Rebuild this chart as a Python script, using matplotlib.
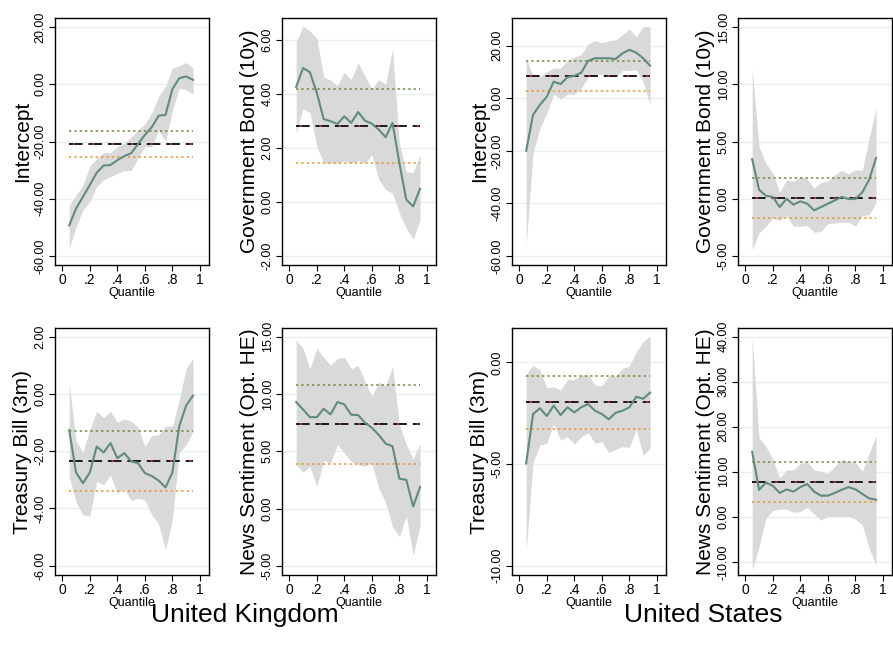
import matplotlib
matplotlib.use('Agg')
import matplotlib.pyplot as plt
import numpy as np
from matplotlib.ticker import FuncFormatter

plt.rcParams['axes.unicode_minus'] = False
plt.rcParams['font.family'] = ['Liberation Sans', 'DejaVu Sans']

quantiles = np.arange(1, 20) * 0.05

# ---- United Kingdom ----
uk_int = [-49.3, -43.4, -39.3, -35.2, -30.9, -28.4, -28.2, -26.5, -25.1, -24.1,
          -20.9, -17.7, -15.0, -11.0, -10.7, -1.7, 2.1, 2.7, 1.5]
uk_int_hi = [-42.2, -38.7, -35.2, -28.6, -25.9, -23.9, -23.9, -21.8, -20.6, -18.5,
             -16.0, -13.9, -10.1, -4.3, -0.8, 5.6, 6.4, 7.6, 5.6]
uk_int_lo = [-57.3, -49.8, -43.9, -41.0, -35.8, -33.4, -32.3, -31.1, -30.2, -30.2,
             -25.9, -21.8, -21.8, -16.0, -20.0, -9.0, -1.4, -2.0, -3.4]
uk_int_ols = [-16.2, -20.9, -25.3]

uk_gb = [4.26, 4.96, 4.80, 4.04, 3.07, 2.99, 2.89, 3.17, 2.93, 3.33,
         3.01, 2.90, 2.68, 2.40, 2.93, 1.44, 0.09, -0.16, 0.49]
uk_gb_hi = [5.91, 6.51, 6.32, 6.07, 4.63, 4.51, 4.31, 4.80, 4.53, 5.15,
            4.65, 4.19, 4.53, 4.35, 5.67, 2.19, 1.10, 1.10, 1.75]
uk_gb_lo = [2.56, 3.46, 3.30, 2.06, 1.44, 1.44, 1.44, 1.53, 1.44, 1.53,
            1.44, 1.75, 0.83, 0.46, 0.33, -0.41, -0.96, -1.37, -0.65]
uk_gb_ols = [4.20, 2.81, 1.43]

uk_tb = [-1.27, -2.75, -3.12, -2.75, -1.84, -2.05, -1.72, -2.25, -2.07, -2.36,
         -2.42, -2.77, -2.87, -3.03, -3.27, -2.75, -1.13, -0.41, -0.06]
uk_tb_hi = [0.39, -1.66, -2.05, -1.25, -0.61, -0.84, -0.61, -1.00, -0.88, -0.96,
            -1.16, -1.84, -1.46, -1.43, -1.13, -1.13, -0.20, 0.88, 1.23]
uk_tb_lo = [-2.89, -3.77, -4.23, -4.27, -3.06, -3.18, -2.83, -3.47, -3.30, -3.73,
            -3.65, -3.71, -4.23, -4.55, -5.46, -4.39, -2.05, -1.78, -1.31]
uk_tb_ols = [-1.31, -2.34, -3.38]

uk_ns = [9.30, 8.65, 7.98, 7.98, 8.71, 8.22, 9.30, 9.09, 8.19, 8.16,
         7.49, 7.05, 6.43, 5.67, 5.44, 2.60, 2.51, 0.18, 1.87]
uk_ns_hi = [14.7, 14.0, 12.2, 14.0, 13.2, 12.5, 13.1, 13.2, 12.2, 12.5,
            11.1, 9.77, 11.05, 10.7, 12.4, 7.34, 5.58, 4.33, 5.67]
uk_ns_lo = [3.83, 3.16, 3.68, 1.93, 4.18, 3.98, 5.58, 4.85, 4.12, 3.83,
            3.68, 3.98, 1.78, 0.53, -1.58, -2.46, -0.64, -4.06, -1.58]
uk_ns_ols = [10.79, 7.34, 3.92]

# ---- United States ----
us_int = [-20.0, -6.3, -2.5, 0.6, 6.3, 5.4, 8.0, 8.5, 9.7, 14.2,
          15.2, 15.2, 15.2, 14.9, 17.1, 18.4, 17.3, 15.2, 12.4]
us_int_hi = [15.2, 8.5, 8.2, 10.1, 11.4, 11.4, 14.3, 15.6, 16.7, 20.5,
             21.9, 21.1, 21.9, 22.2, 24.1, 26.3, 23.4, 27.2, 27.2]
us_int_lo = [-55.9, -20.9, -11.4, -5.7, 1.6, -0.3, 1.5, 1.5, 3.8, 8.0,
             8.9, 9.2, 8.5, 8.0, 10.5, 10.5, 10.8, 6.3, -2.5]
us_int_ols = [14.2, 8.5, 2.9]

us_gb = [3.46, 0.78, 0.26, 0.15, -0.73, 0.0, -0.52, -0.23, -0.44, -1.02,
         -0.73, -0.44, -0.15, 0.15, -0.03, -0.03, 0.55, 1.66, 3.55]
us_gb_hi = [11.4, 4.56, 3.05, 2.24, 0.55, 1.66, 1.51, 1.95, 1.72, 0.93,
            1.42, 1.51, 2.09, 2.47, 2.18, 2.53, 2.47, 5.29, 7.91]
us_gb_lo = [-4.45, -2.99, -2.41, -1.69, -1.89, -1.48, -2.41, -2.41, -2.35, -2.94,
            -2.85, -2.18, -2.12, -2.06, -2.06, -2.41, -1.48, -1.40, -0.38]
us_gb_ols = [1.83, 0.06, -1.69]

us_tb = [-4.97, -2.54, -2.26, -2.64, -2.13, -2.59, -2.21, -2.46, -2.21, -2.05,
         -2.38, -2.54, -2.80, -2.48, -2.38, -2.21, -1.69, -1.79, -1.49]
us_tb_hi = [-0.57, -0.15, -0.38, -1.25, -1.20, -1.36, -0.84, -0.84, -0.62, -0.62,
            -1.11, -1.16, -0.67, -0.67, -0.30, -0.18, 0.52, 1.02, 1.30]
us_tb_lo = [-9.31, -4.93, -4.07, -3.98, -3.03, -3.82, -3.66, -4.02, -3.66, -3.46,
            -3.98, -3.90, -4.44, -4.28, -4.15, -4.18, -3.30, -4.56, -4.23]
us_tb_ols = [-0.66, -1.97, -3.30]

us_ns = [14.4, 6.0, 7.6, 6.9, 5.3, 6.1, 5.6, 6.6, 7.3, 5.6,
         4.7, 4.7, 5.3, 6.0, 6.6, 6.1, 5.1, 4.1, 3.8]
us_ns_hi = [39.9, 17.5, 15.6, 12.8, 8.6, 10.4, 10.4, 11.9, 12.3, 10.4,
            10.1, 9.6, 11.2, 12.8, 12.3, 12.1, 10.1, 14.1, 18.0]
us_ns_lo = [-11.8, -6.6, -0.3, 1.4, 1.7, 1.7, 1.0, 1.2, 2.1, 0.7,
            -0.7, 0.1, 0.1, 0.1, 0.1, -0.5, -1.8, -7.0, -10.7]
us_ns_ols = [12.1, 7.7, 3.3]

labels = ['Intercept', 'Government Bond (10y)', 'Treasury Bill (3m)', 'News Sentiment (Opt. HE)']
countries = ['United Kingdom', 'United States']

panels = [
    # (column, row, label, est, hi, lo, ols, yticks, ylim)
    (0, 0, labels[0], uk_int, uk_int_hi, uk_int_lo, uk_int_ols, [-60, -40, -20, 0, 20], (-63.1, 23.1)),
    (1, 0, labels[1], uk_gb, uk_gb_hi, uk_gb_lo, uk_gb_ols, [-2, 0, 2, 4, 6], (-2.33, 6.81)),
    (2, 0, labels[0], us_int, us_int_hi, us_int_lo, us_int_ols, [-60, -40, -20, 0, 20], (-63.4, 30.5)),
    (3, 0, labels[1], us_gb, us_gb_hi, us_gb_lo, us_gb_ols, [-5, 0, 5, 10, 15], (-5.8, 15.8)),
    (0, 1, labels[2], uk_tb, uk_tb_hi, uk_tb_lo, uk_tb_ols, [-6, -4, -2, 0, 2], (-6.33, 2.3)),
    (1, 1, labels[3], uk_ns, uk_ns_hi, uk_ns_lo, uk_ns_ols, [-5, 0, 5, 10, 15], (-5.8, 15.76)),
    (2, 1, labels[2], us_tb, us_tb_hi, us_tb_lo, us_tb_ols, [-10, -5, 0], (-10.46, 1.69)),
    (3, 1, labels[3], us_ns, us_ns_hi, us_ns_lo, us_ns_ols, [-10, 0, 10, 20, 30, 40], (-12.9, 41.9)),
]

W, H = 893, 656
fig = plt.figure(figsize=(W / 100, H / 100), dpi=100)
fig.patch.set_facecolor('white')

col_left = [55, 282, 512, 738]
row_top = [18, 328]
ax_w, ax_h = 154, 247

band_col = '#d9d9d9'
line_col = '#5f8c7c'
green_col = '#6f8a3c'
orange_col = '#e39a2d'

for col, row, lab, est, hi, lo, ols, yt, yl in panels:
    ax = fig.add_axes([col_left[col] / W, 1 - (row_top[row] + ax_h) / H, ax_w / W, ax_h / H])
    ax.fill_between(quantiles, lo, hi, color=band_col, lw=0, zorder=1)
    ax.plot(quantiles, est, color=line_col, lw=1.5, zorder=4)
    x0, x1 = quantiles[0], quantiles[-1]
    # upper / lower reference lines and the OLS estimate
    ax.plot([x0, x1], [ols[0], ols[0]], color=green_col, lw=1.1, ls=(0, (1.5, 2.0)), zorder=3)
    ax.plot([x0, x1], [ols[2], ols[2]], color=orange_col, lw=1.1, ls=(0, (1.5, 2.0)), zorder=3)
    ax.plot([x0, x1], [ols[1], ols[1]], color='#1a1a1a', lw=1.4, ls=(0, (7, 3)), zorder=3)
    ax.plot([x0, x1], [ols[1], ols[1]], color='#c0392b', lw=1.4, ls=(8, (1, 9)), zorder=3)

    ax.set_xlim(-0.053, 1.066)
    ax.set_ylim(*yl)
    ax.set_yticks(yt)
    ax.yaxis.set_major_formatter(FuncFormatter(lambda v, p: '%.2f' % v))
    ax.set_xticks([0, 0.2, 0.4, 0.6, 0.8, 1.0])
    ax.set_xticklabels(['0', '.2', '.4', '.6', '.8', '1'], fontsize=10)
    for t in ax.get_yticklabels():
        t.set_rotation(90)
        t.set_fontsize(9)
        t.set_va('center')
    ax.grid(axis='y', color='#e8f0f1', lw=1.0, zorder=0)
    ax.set_axisbelow(True)
    ax.tick_params(direction='out', length=4, width=0.8, pad=2, colors='black')
    for s in ax.spines.values():
        s.set_linewidth(1.0)
        s.set_color('black')
    ax.set_ylabel(lab, fontsize=15, labelpad=2)
    ax.set_xlabel('Quantile', fontsize=9, labelpad=0)

fig.text(245 / W, 1 - 615 / H, countries[0], fontsize=19, ha='center', va='center')
fig.text(703 / W, 1 - 615 / H, countries[1], fontsize=19, ha='center', va='center')

fig.savefig('out.png', dpi=100)
